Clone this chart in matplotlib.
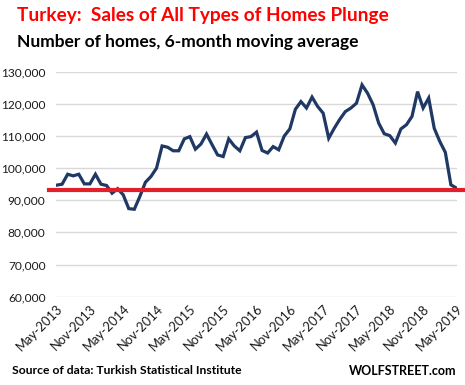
import matplotlib
matplotlib.use("Agg")
import matplotlib.pyplot as plt

# monthly, May-2013 .. May-2019 (6-month moving average of home sales)
sales = [
    94700, 95000, 98100, 97600, 98100, 95100, 95100, 98100, 95000, 94600,
    92200, 93600, 91700, 87400, 87200, 91200, 95600, 97400, 100000, 106900,
    106500, 105400, 105400, 109100, 109800, 105900, 107500, 110600, 107300, 104100,
    103600, 109100, 106900, 105400, 109500, 109800, 111200, 105500, 104700, 106700,
    105700, 110000, 112200, 118300, 120700, 118700, 122100, 119200, 117100, 109300,
    112400, 115200, 117600, 118700, 120200, 125900, 123300, 119700, 114000, 110700,
    110100, 107800, 112200, 113500, 116100, 123800, 118700, 121800, 112400, 108300,
    104900, 94800, 93800,
]
red_level = 93200

tick_labels = ["May-2013", "Nov-2013", "May-2014", "Nov-2014", "May-2015",
               "Nov-2015", "May-2016", "Nov-2016", "May-2017", "Nov-2017",
               "May-2018", "Nov-2018", "May-2019"]
y_ticks = [60000, 70000, 80000, 90000, 100000, 110000, 120000, 130000]

plt.rcParams["font.family"] = ["Lato", "DejaVu Sans"]

fig = plt.figure(figsize=(4.65, 3.85), dpi=100)
ax = fig.add_axes([56 / 465, 1 - 296.7 / 385, 401 / 465, 225 / 385])

x = list(range(len(sales)))
ax.plot(x, sales, color="#203864", lw=2.3, solid_joinstyle="miter", zorder=3)

# red reference line runs a little past the plot on both sides
ax.plot([-7 / 401, 409 / 401], [red_level, red_level], color="#e3202a", lw=3,
        transform=ax.get_yaxis_transform(), clip_on=False, zorder=4)

ax.set_xlim(-0.1, 72.1)
ax.set_ylim(60000, 130000)
ax.set_yticks(y_ticks)
ax.set_yticklabels([f"{v:,}" for v in y_ticks], fontsize=8.6, color="#1a1a1a")
ax.set_xticks(range(0, len(sales), 6))
ax.set_xticklabels(tick_labels, rotation=45, ha="right", va="top",
                   rotation_mode="anchor", fontsize=9.3, color="#1a1a1a")
ax.tick_params(axis="y", length=0, pad=7.5)
ax.tick_params(axis="x", length=0, pad=4)
ax.grid(axis="y", color="#d9d9d9", lw=1)
ax.set_axisbelow(True)
for s in ax.spines.values():
    s.set_visible(False)

fig.text(17 / 465, 1 - 16 / 385, "Turkey:  Sales of All Types of Homes Plunge",
         color="#ff0000", fontsize=13.7, fontweight="bold", va="center")
fig.text(17 / 465, 1 - 42 / 385, "Number of homes, 6-month moving average",
         color="black", fontsize=12.5, fontweight="bold", va="center")
fig.text(12 / 465, 1 - 371 / 385, "Source of data: Turkish Statistical Institute",
         fontsize=8.7, fontweight="bold", va="center")
fig.text(456 / 465, 1 - 371 / 385, "WOLFSTREET.com",
         fontsize=9, fontweight="bold", va="center", ha="right")

fig.savefig("out.png", dpi=100)
